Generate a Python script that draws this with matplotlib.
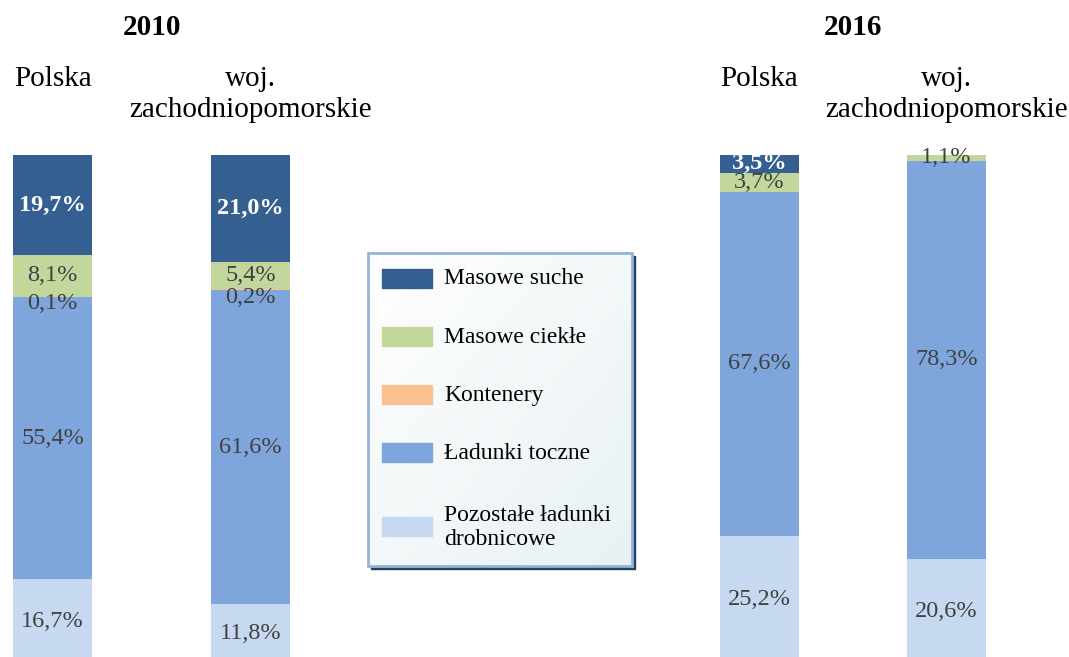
import numpy as np
import matplotlib.pyplot as plt
from matplotlib.patches import Rectangle

plt.rcParams['font.family'] = ['Liberation Serif', 'DejaVu Serif']

# udział grup ładunków w obrotach portowych [%], kolejność od góry słupka
categories = ['Masowe suche', 'Masowe ciekłe', 'Kontenery', 'Ładunki toczne',
              'Pozostałe ładunki\ndrobnicowe']
colors = ['#355F91', '#C3D69B', '#FAC090', '#7EA6DC', '#C6D9F1']
regions = ['Polska', 'woj.\nzachodniopomorskie']
years = ['2010', '2016']

polska_2010 = [19.7, 8.1, 0.1, 55.4, 16.7]
zachpom_2010 = [21.0, 5.4, 0.2, 61.6, 11.8]
polska_2016 = [3.5, 3.7, 0.0, 67.6, 25.2]
zachpom_2016 = [0.0, 1.1, 0.0, 78.3, 20.6]

W, H = 1069, 657
fig = plt.figure(figsize=(W / 100, H / 100), dpi=100)


def px_axes(left, top, right, bottom):
    return fig.add_axes([left / W, 1 - bottom / H, (right - left) / W, (bottom - top) / H])


def fmt(v):
    return f'{v:.1f}'.replace('.', ',') + '%'


def draw_year(ax, year, series, width):
    xs = np.arange(len(series))
    for x, vals in zip(xs, series):
        vals = np.array(vals)
        tops = 100 - np.concatenate([[0], np.cumsum(vals)[:-1]])
        for i, (v, top) in enumerate(zip(vals, tops)):
            if v <= 0:
                continue
            ax.bar(x, v, bottom=top - v, width=width, color=colors[i], linewidth=0)
            yc = top - v / 2
            if v < 1:
                yc -= 1.4
            if i == 0:
                ax.text(x, yc, fmt(v), ha='center', va='center', color='white',
                        fontsize=17.5, fontweight='bold')
            else:
                ax.text(x, yc, fmt(v), ha='center', va='center', color='#404040',
                        fontsize=17.5)
    for x, name in zip(xs, regions):
        ax.text(x, 1.175, name, transform=ax.get_xaxis_transform(), ha='center', va='top',
                fontsize=21, linespacing=1.24, clip_on=False)
    ax.text(0.5, 1.251, year, transform=ax.transAxes, ha='center', va='center',
            fontsize=21, fontweight='bold')
    ax.set_xlim(-width / 2, len(series) - 1 + width / 2)
    ax.set_ylim(0, 100)
    ax.axis('off')


ax1 = px_axes(13, 155, 290, 664)
draw_year(ax1, years[0], [polska_2010, zachpom_2010], 0.4)
ax2 = px_axes(720, 155, 986, 664)
draw_year(ax2, years[1], [polska_2016, zachpom_2016], 0.4225)

# legenda
lw, lh = 264, 313
lax = px_axes(368, 253, 368 + lw, 253 + lh)
lax.set_xlim(0, lw)
lax.set_ylim(lh, 0)
lax.axis('off')
lax.add_patch(Rectangle((3, 3), lw, lh, color='#243F60', clip_on=False, zorder=0))
grad = np.linspace(0, 1, 64)
gx, gy = np.meshgrid(grad, grad)
g = (gx + gy) / 2
c0 = np.array([1.0, 1.0, 1.0])
c1 = np.array([0.91, 0.945, 0.955])
img = c0[None, None, :] * (1 - g[..., None]) + c1[None, None, :] * g[..., None]
lax.imshow(img, extent=(0, lw, lh, 0), aspect='auto', zorder=1)
lax.add_patch(Rectangle((0, 0), lw, lh, fill=False, edgecolor='#95B3D7', linewidth=2,
                        clip_on=False, zorder=3))
row_y = 25.0
for i, (name, col) in enumerate(zip(categories, colors)):
    if '\n' in name:
        row_y += 15
    lax.add_patch(Rectangle((14, row_y - 9.5), 50, 19, color=col, zorder=2))
    lax.text(76, row_y + 1, name, ha='left', va='center', fontsize=17, color='black',
             linespacing=1.2, zorder=2)
    row_y += 58.3

fig.savefig('out.png', dpi=100)
